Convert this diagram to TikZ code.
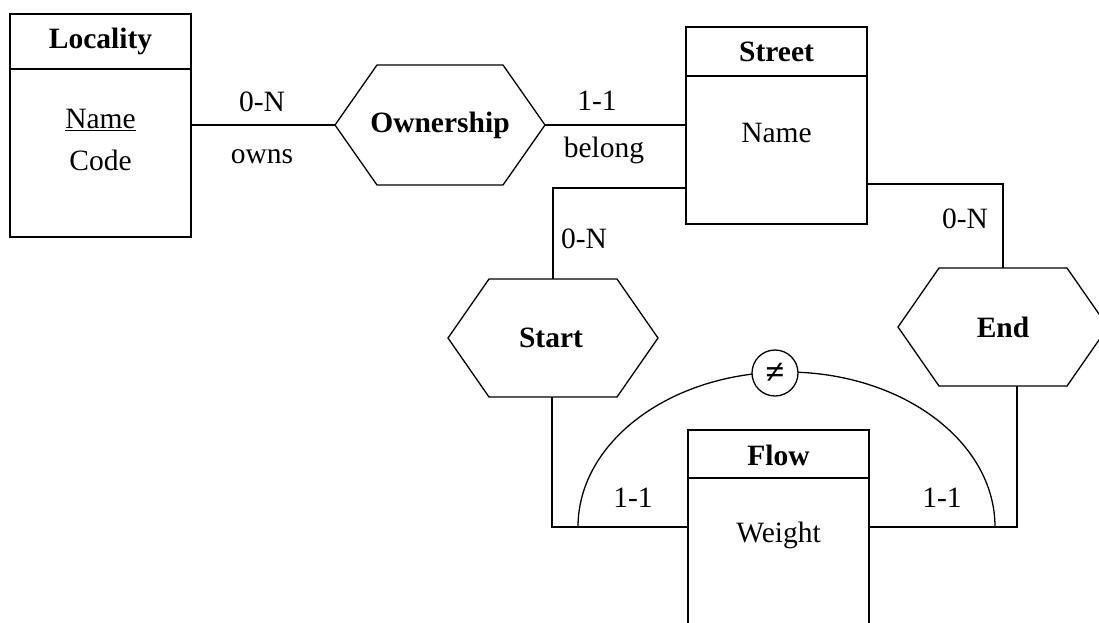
\documentclass[tikz,border=0pt]{standalone}
\usepackage{fontspec}
\setmainfont{Liberation Serif}
\usetikzlibrary{calc}

\tikzset{
  lbl/.style={font=\fontsize{29.5}{33}\selectfont, inner sep=0pt},
  ttl/.style={font=\fontsize{29.5}{33}\selectfont\bfseries, inner sep=0pt},
  entity/.style={draw, rectangle, inner sep=0pt, outer sep=0pt},
  relation/.style={rectangle, inner sep=0pt, outer sep=0pt},
  link/.style={draw}
}

% hexagonal outline around a relation node; #2 is the depth of the pointed ends
\newcommand\hexout[2]{%
  \draw (#1.west) -- ($(#1.north west)+(#2,0)$) -- ($(#1.north east)+(-#2,0)$)
        -- (#1.east) -- ($(#1.south east)+(-#2,0)$) -- ($(#1.south west)+(#2,0)$) -- cycle;}

\begin{document}
\begin{tikzpicture}[x=1pt, y=-1pt, line width=1.3pt]
\useasboundingbox (0,0) rectangle (1099,622);

% ---- entities ----
\node[entity, minimum width=181pt, minimum height=223pt] (loc) at (100.5,125.5) {};
\draw ($(loc.north west)+(0,55)$) -- ($(loc.north east)+(0,55)$);
\node[ttl] (locT) at (100.5,41) {Locality};
\node[lbl] (locA) at (100.5,120) {\underline{Name}};
\node[lbl] (locB) at (100.5,160) {Code};

\node[entity, minimum width=181pt, minimum height=197pt] (street) at (776.5,125.5) {};
\draw ($(street.north west)+(0,49)$) -- ($(street.north east)+(0,49)$);
\node[ttl] (streetT) at (776.5,52) {Street};
\node[lbl] (streetA) at (776.5,133) {Name};

\node[entity, minimum width=181pt, minimum height=240pt] (flow) at (778.5,550) {};
\draw ($(flow.north west)+(0,48)$) -- ($(flow.north east)+(0,48)$);
\node[ttl] (flowT) at (778.5,455) {Flow};
\node[lbl] (flowA) at (778.5,535) {Weight};

% ---- relationships ----
\node[relation, minimum width=210pt, minimum height=120pt] (own) at (440,125) {};
\hexout{own}{42}
\node[ttl] (ownT) at (440,125) {Ownership};

\node[relation, minimum width=210pt, minimum height=118pt] (start) at (553,338) {};
\hexout{start}{41}
\node[ttl] (startT) at (551,338) {Start};

\node[relation, minimum width=210pt, minimum height=118pt] (end) at (1003,327) {};
\hexout{end}{41}
\node[ttl] (endT) at (1003,327) {End};

% ---- connectors ----
\coordinate (flowL) at (flow.west |- 0,527);
\coordinate (flowR) at (flow.east |- 0,527);

\draw[link] (loc.east |- own.west) -- (own.west);
\draw[link] (own.east) -- (own.east -| street.west);
\draw[link] ($(street.south west)+(0,-36)$) -| (start.north);
\draw[link] ($(street.south east)+(0,-40)$) -| (end.north);
\draw[link] ($(start.south)+(-1,0)$) |- (flowL);
\draw[link] ($(end.south)+(14,0)$) |- (flowR);

% exclusion constraint between the two roles of Flow
\draw (578,527) arc[start angle=180, end angle=360, x radius=208.5, y radius=155];
\node[draw, circle, fill=white, minimum size=46pt, inner sep=0pt, font=\fontsize{34}{36}\selectfont\bfseries] (ne) at (775,373) {≠};

% ---- cardinalities and role names ----
\node[lbl] at (262,102) {0-N};
\node[lbl] at (262,157) {owns};
\node[lbl] at (597,101) {1-1};
\node[lbl] at (604,150) {belong};
\node[lbl] at (584,239) {0-N};
\node[lbl] at (965,219) {0-N};
\node[lbl] at (633,498) {1-1};
\node[lbl] at (942,498) {1-1};
\end{tikzpicture}
\end{document}
